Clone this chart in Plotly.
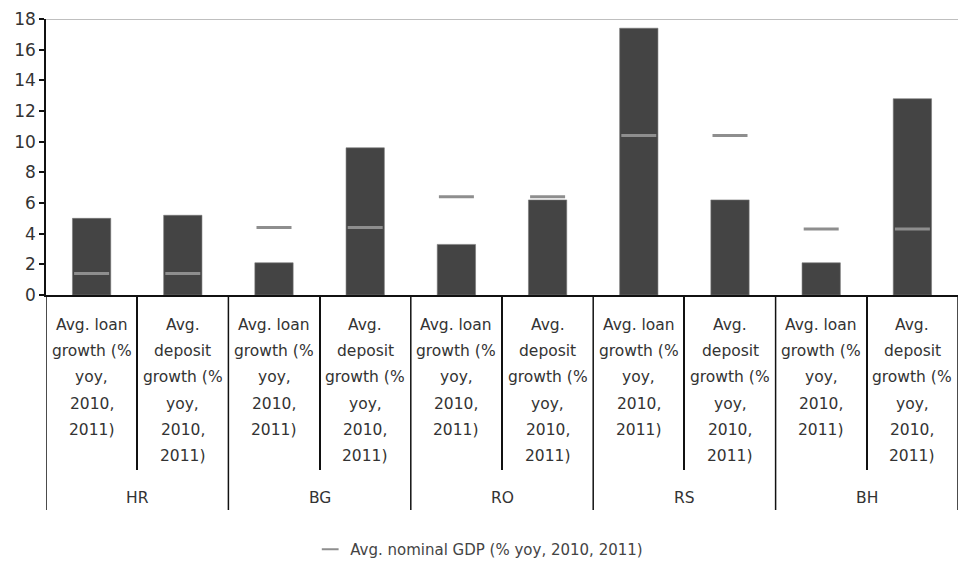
import plotly.graph_objects as go

groups = ["HR", "BG", "RO", "RS", "BH"]
sub_loan = ["Avg. loan", "growth (%", "yoy,", "2010,", "2011)"]
sub_dep = ["Avg.", "deposit", "growth (%", "yoy,", "2010,", "2011)"]
bar_values = [5.0, 5.2, 2.1, 9.6, 3.3, 6.2, 17.4, 6.2, 2.1, 12.8]
gdp_values = [1.4, 1.4, 4.4, 4.4, 6.4, 6.4, 10.4, 10.4, 4.3, 4.3]
legend_name = "Avg. nominal GDP (% yoy, 2010, 2011)"
y_ticks = list(range(0, 19, 2))

FONT = "DejaVu Sans"
TXT = "#333333"

xs = list(range(len(bar_values)))

fig = go.Figure()
fig.add_trace(go.Bar(x=xs, y=bar_values, marker=dict(color="#444444", line=dict(width=0.6, color="#777777")),
                     showlegend=False, hoverinfo="y"))
fig.add_trace(go.Scatter(x=xs, y=gdp_values, mode="markers", name=legend_name,
                         marker=dict(symbol="line-ew", size=25, color="#8e8e8e",
                                     line=dict(width=3, color="#8e8e8e"))))

annotations = []
for i in xs:
    lines = sub_loan if i % 2 == 0 else sub_dep
    for j, t in enumerate(lines):
        annotations.append(dict(x=i, y=0, xref="x", yref="paper", text=t, showarrow=False,
                                yanchor="middle", yshift=-30 - 26.2 * j,
                                font=dict(family=FONT, size=15.5, color=TXT)))
for g, name in enumerate(groups):
    annotations.append(dict(x=2 * g + 0.5, y=0, xref="x", yref="paper", text=name, showarrow=False,
                            yanchor="middle", yshift=-203, font=dict(family=FONT, size=15.5, color=TXT)))

shapes = [dict(type="line", xref="paper", yref="y", x0=0, x1=1, y0=18, y1=18,
               line=dict(color="#aaaaaa", width=1.5))]
for b in [-0.5, 1.5, 3.5, 5.5, 7.5, 9.5]:
    shapes.append(dict(type="line", xref="x", yref="paper", x0=b, x1=b, y0=0, y1=-0.779,
                       line=dict(color="#111111", width=1.5)))

fig.update_layout(
    width=958, height=566,
    margin=dict(l=46, r=0, t=19, b=271),
    paper_bgcolor="white", plot_bgcolor="white",
    bargap=0.58,
    font=dict(family=FONT, size=16, color=TXT),
    xaxis=dict(range=[-0.5, 9.5], showgrid=False, zeroline=False, showline=True,
               linecolor="#111111", linewidth=1.5, tickvals=[0.5, 2.5, 4.5, 6.5, 8.5],
               ticktext=[""] * 5, ticks="outside", ticklen=173, tickwidth=1.5, tickcolor="#111111"),
    yaxis=dict(range=[0, 18], tickvals=y_ticks, showgrid=False, zeroline=False, showline=True,
               linecolor="#111111", linewidth=1.5, ticks="outside", ticklen=5, tickwidth=1.5,
               tickcolor="#111111", tickfont=dict(family=FONT, size=17, color=TXT)),
    legend=dict(orientation="h", x=0.475, xanchor="center", y=-0.924, yanchor="middle",
                itemsizing="constant", itemwidth=30,
                font=dict(family=FONT, size=15, color="#444444")),
    annotations=annotations,
    shapes=shapes,
)

fig.write_html("out.html", config={"displayModeBar": False},
               post_script="document.body.style.margin='0';document.body.style.overflow='hidden';")
